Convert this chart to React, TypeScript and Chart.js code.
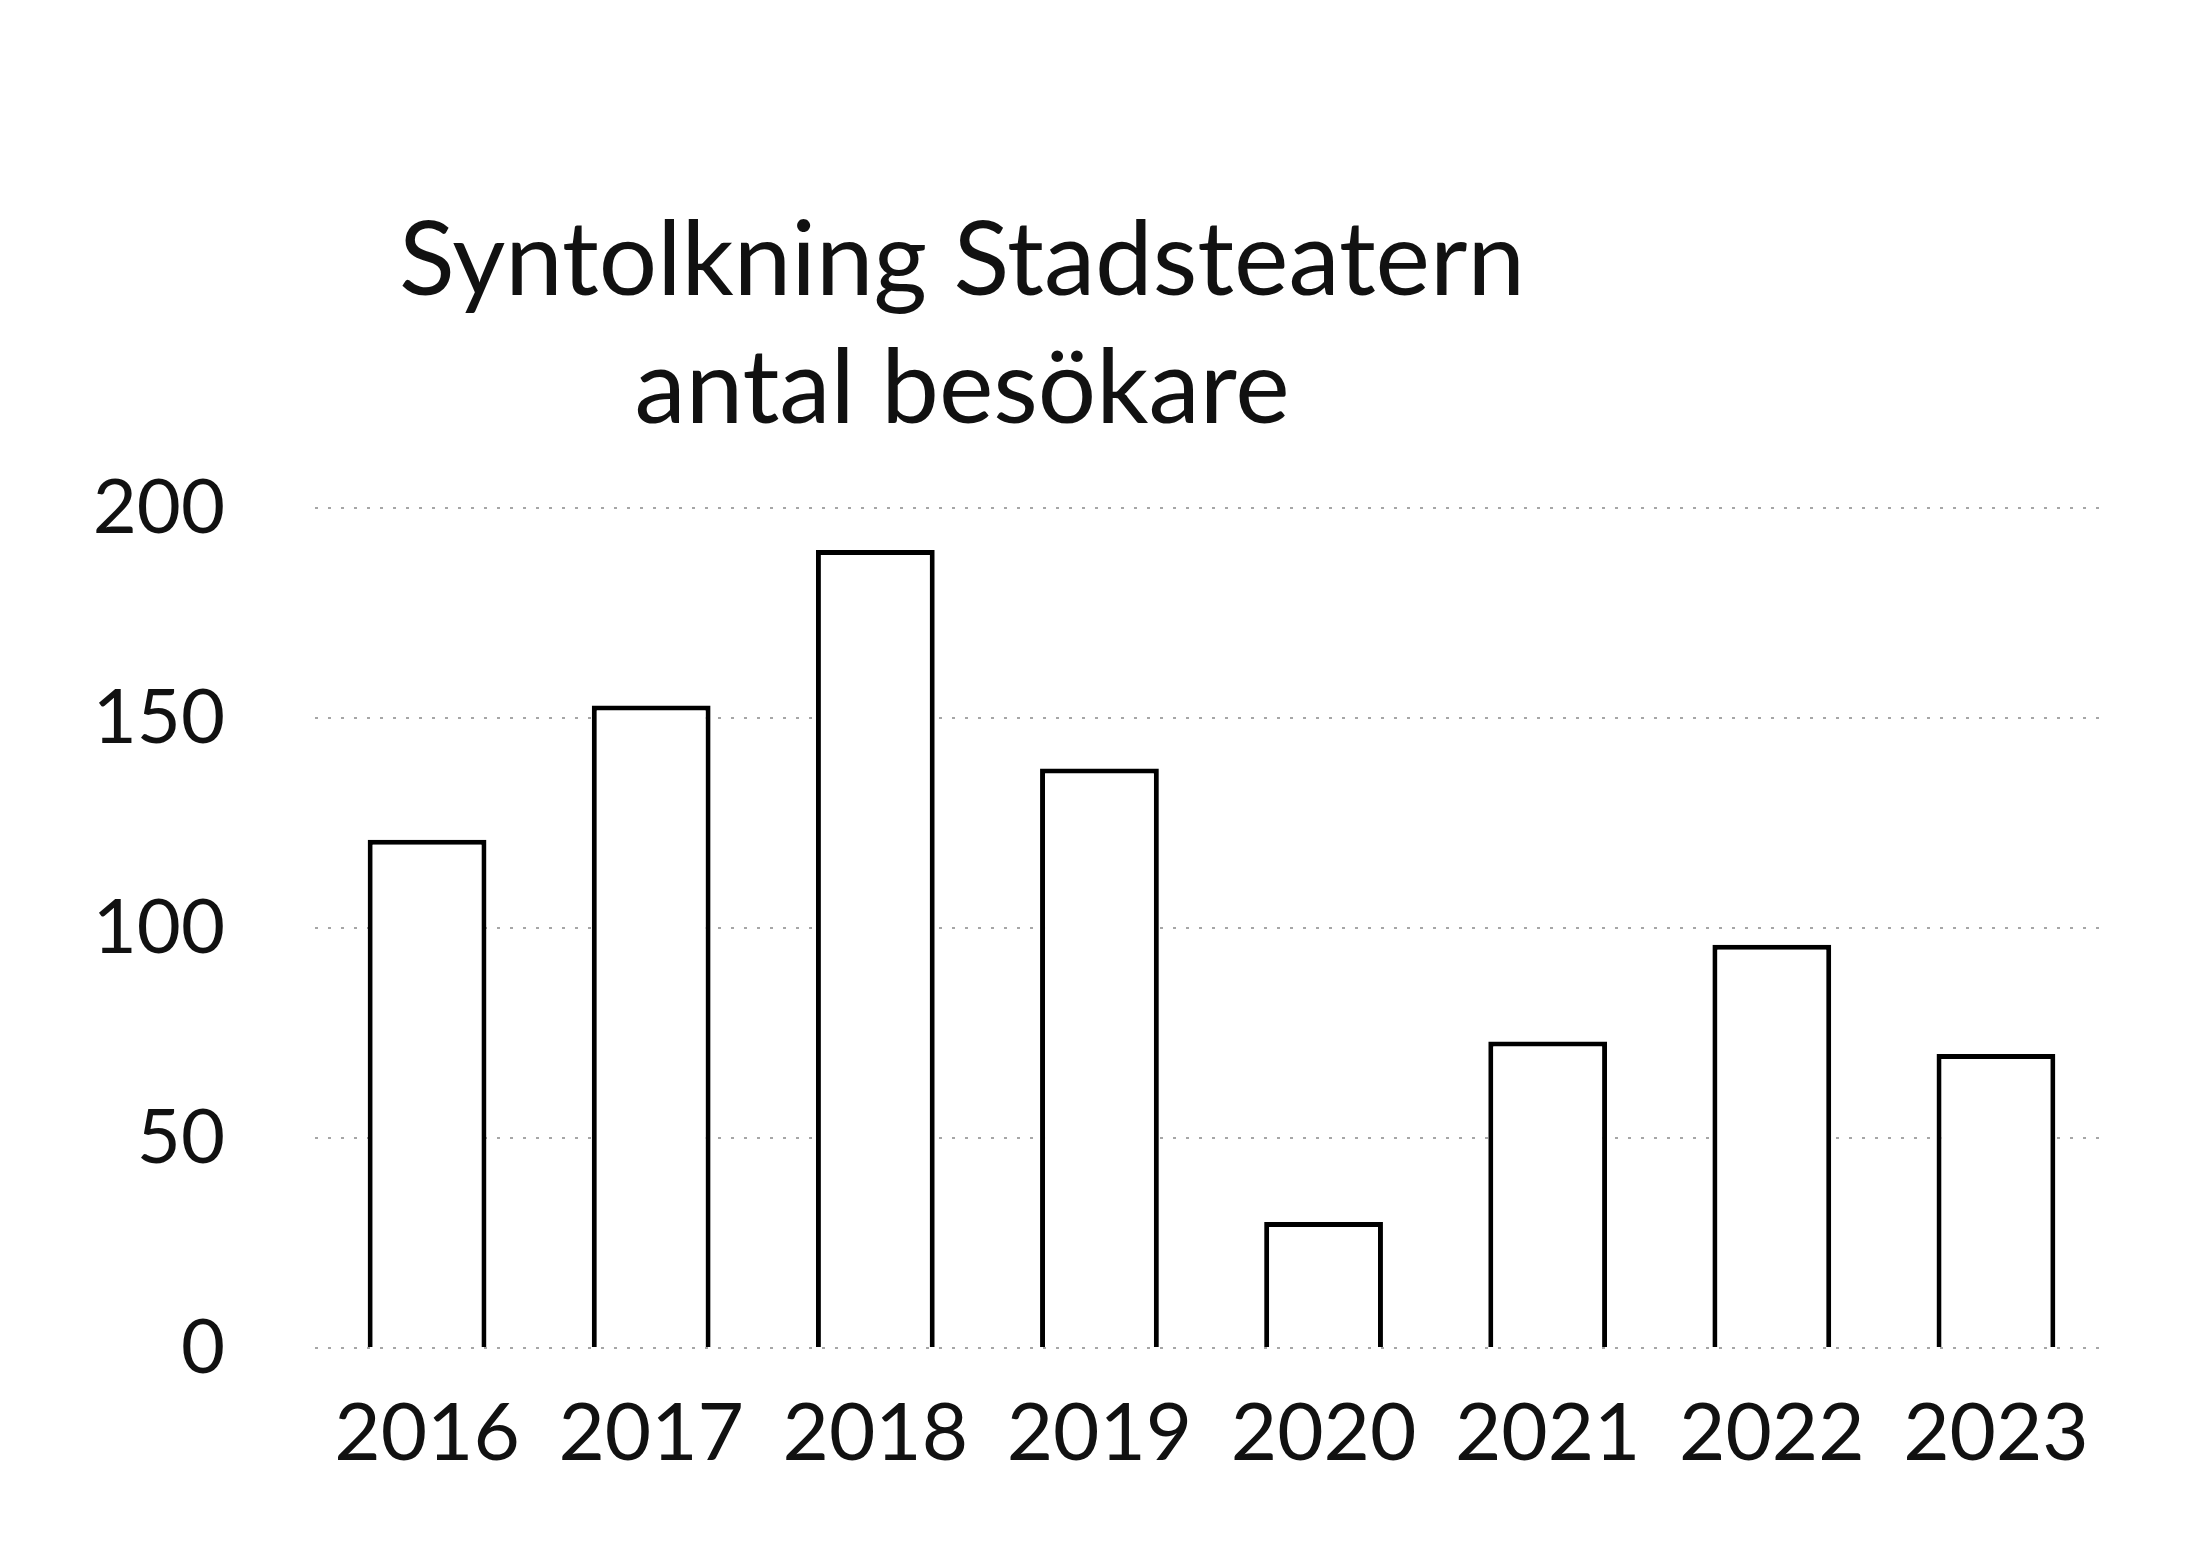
import React, { useEffect, useRef } from "react";
import { Chart, registerables } from "chart.js";

Chart.register(...registerables);

const years = ["2016", "2017", "2018", "2019", "2020", "2021", "2022", "2023"];
const visitors = [121, 153, 190, 138, 30, 73, 96, 70];
const yMin = 0;
const yMax = 200;
const yStep = 50;
const titleLines = ["Syntolkning Stadsteatern", "antal besökare"];

const W = 2202;
const H = 1550;
const FONT = "Lato, 'Open Sans', sans-serif";

const titlePlugin = {
  id: "freeTitle",
  afterDraw(chart: any) {
    const ctx = chart.ctx;
    ctx.save();
    ctx.fillStyle = "#111";
    ctx.font = `103px ${FONT}`;
    ctx.textAlign = "center";
    ctx.textBaseline = "middle";
    ctx.fillText(titleLines[0], 962, 262);
    ctx.fillText(titleLines[1], 962, 390);
    ctx.restore();
  },
};

export default function App() {
  const ref = useRef<HTMLCanvasElement | null>(null);

  useEffect(() => {
    if (!ref.current) return;
    const chart = new Chart(ref.current, {
      type: "bar",
      data: {
        labels: years,
        datasets: [
          {
            data: visitors,
            backgroundColor: "#ffffff",
            borderColor: "#000000",
            borderWidth: 5,
            borderSkipped: "start",
            categoryPercentage: 1,
            barPercentage: 0.53,
          },
        ],
      },
      options: {
        responsive: false,
        animation: false,
        layout: { padding: { top: 508, right: 94, left: 0, bottom: 0 } },
        plugins: {
          legend: { display: false },
          title: { display: false },
          tooltip: { enabled: false },
        },
        scales: {
          x: {
            offset: true,
            grid: { display: false, drawTicks: false },
            border: { display: false },
            ticks: {
              color: "#111",
              font: { family: FONT, size: 80 },
              padding: 38,
              maxRotation: 0,
              autoSkip: false,
            },
            afterFit(scale: any) {
              scale.height = H - 1348;
            },
          },
          y: {
            min: yMin,
            max: yMax,
            grid: {
              color: "rgba(0,0,0,0.35)",
              lineWidth: 2,
              drawTicks: false,
            },
            border: { display: false, dash: [3, 10] },
            ticks: {
              stepSize: yStep,
              color: "#111",
              font: { family: FONT, size: 76 },
              padding: 90,
            },
            afterFit(scale: any) {
              scale.width = 315;
            },
          },
        },
      },
      plugins: [titlePlugin],
    });
    return () => chart.destroy();
  }, []);

  return (
    <div style={{ position: "absolute", left: 0, top: 0, width: W, height: H, background: "#fff" }}>
      <canvas ref={ref} width={W} height={H} style={{ width: W, height: H, display: "block" }} />
    </div>
  );
}
